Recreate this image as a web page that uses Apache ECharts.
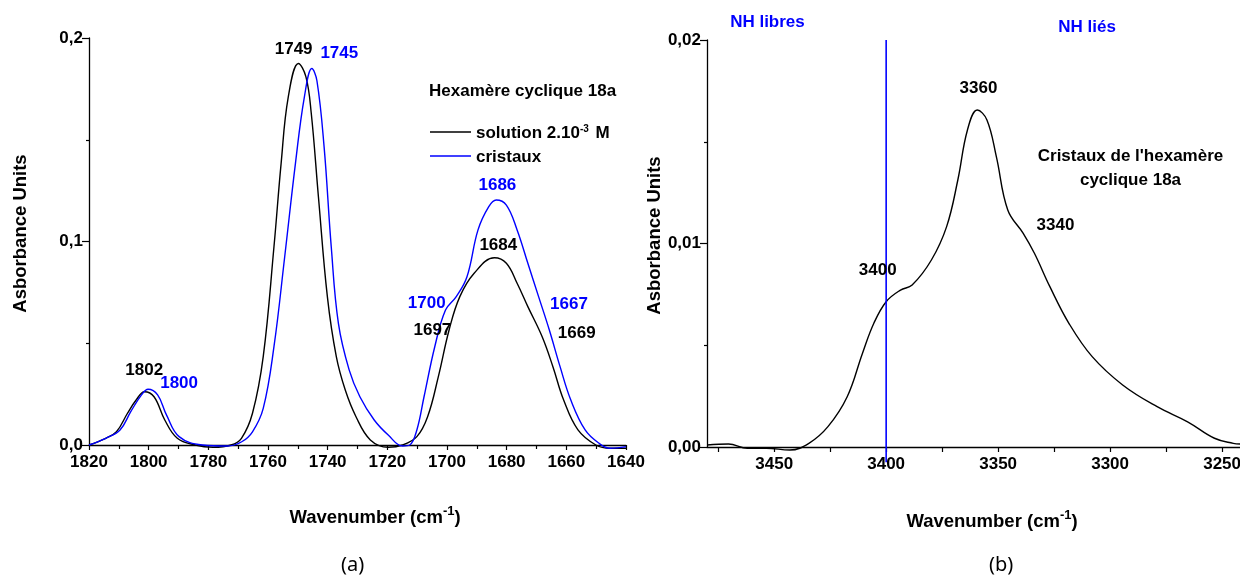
<!DOCTYPE html>
<html>
<head>
<meta charset="utf-8">
<script src="https://cdn.jsdelivr.net/npm/echarts@6/dist/echarts.min.js"></script>
<style>
html,body{margin:0;padding:0;background:#fff;}
#c{width:1240px;height:588px;}
</style>
</head>
<body>
<div id="c"></div>
<script>
// ---- Data ----
// (a) solution 2.10^-3 M
const wnSolution = [1820,1814.4,1810.8,1807.1,1804.2,1801.4,1798.2,1794.6,1790.4,1784.4,1778.4,1772.4,1768.9,1765.2,1761.6,1758,1755.6,1753.2,1749.8,1747.3,1745.5,1743.1,1740.1,1737.1,1734.1,1730.5,1725.7,1719.7,1714.9,1710.1,1706.5,1702.9,1699.3,1695.7,1690.9,1684.1,1680.1,1676.5,1672.9,1668.1,1664.5,1660.9,1656.1,1650.1,1645.3,1640];
const absSolution = [0,0.0033,0.0065,0.0156,0.0221,0.0262,0.0237,0.0123,0.0033,0,-0.0011,0,0.0033,0.0156,0.0434,0.0974,0.1384,0.1711,0.1875,0.181,0.163,0.122,0.0729,0.0434,0.027,0.0139,0.0025,-0.0011,0,0.0041,0.0139,0.0336,0.0565,0.0729,0.0844,0.092,0.0893,0.0795,0.068,0.0532,0.0385,0.0221,0.0074,0,-0.0016,-0.0016];
// (a) cristaux
const wnCristaux = [1820,1814.4,1809.6,1806,1802.4,1800.2,1797,1794,1789.8,1782,1773.6,1768.8,1765.2,1761.6,1758,1754.4,1750.8,1747.8,1745.3,1743.6,1741.2,1738.8,1736.4,1732.8,1729.2,1724.4,1719.7,1714.9,1712.5,1710.1,1707.7,1704.1,1700.5,1696.9,1693.3,1689.6,1686,1683.5,1680.1,1676.5,1672.9,1669.3,1665.7,1662.1,1658.5,1653.7,1649,1645.3,1640];
const absCristaux = [0,0.0033,0.0074,0.0164,0.0246,0.0274,0.0246,0.0147,0.0041,0,-0.0005,0.0016,0.0065,0.018,0.0483,0.0925,0.1384,0.1711,0.185,0.179,0.1466,0.0974,0.0598,0.0369,0.0237,0.0123,0.0049,-0.0005,0,0.0074,0.0237,0.0483,0.0663,0.0729,0.0827,0.1057,0.1171,0.1204,0.1179,0.1057,0.0893,0.0729,0.0565,0.0385,0.0221,0.0074,0.0008,-0.0016,-0.0008];
// (b) cristaux de l'hexamère, NH region
const wnNH = [3480,3470.4,3462,3453.5,3443,3434.5,3426,3417.4,3410.6,3405.5,3400,3393.6,3388.4,3379.8,3373,3368,3363.7,3359.3,3355,3350.8,3345.7,3338.8,3333.8,3326.9,3318.4,3308,3294.4,3279,3265.4,3253.4,3245,3242];
const absNH = [0.0001,0.00015,-0.00006,-0.00006,-0.00015,0.00018,0.001,0.00247,0.0046,0.00608,0.00714,0.00771,0.00796,0.00919,0.01083,0.01312,0.01558,0.01656,0.01607,0.01427,0.01165,0.0105,0.00952,0.00788,0.00608,0.00444,0.00305,0.00198,0.00124,0.00043,0.00018,0.00015];
// (b) separation line NH libres / NH liés
const nhLineWn = [3400,3400];
const nhLineAbs = [0.02,-0.00075];

// Axis ticks
const xTicksA = {min:1640,max:1820,interval:20};
const yTicksA = {min:0,max:0.2,interval:0.1};
const xRangeB = {min:3242,max:3480};
const xLabelsB = [3250,3300,3350,3400,3450];
const xMinorB = [3250,3275,3300,3325,3350,3375,3400,3425,3450,3475];
const yTicksB = {min:0,max:0.02,interval:0.01};

// Annotations [text, wavenumber, absorbance]
const labelsABlack = [
  ['1749',1751.4,0.1944],
  ['1684',1682.8,0.0982],
  ['1697',1704.9,0.0565],
  ['1669',1656.5,0.0550],
  ['1802',1801.5,0.0365]
];
const labelsABlue = [
  ['1745',1736.1,0.1924],
  ['1686',1683.1,0.1277],
  ['1700',1706.8,0.0696],
  ['1667',1659.1,0.0692],
  ['1800',1789.8,0.0303]
];
const labelsBBlack = [
  ['3400',3403.75,0.0087],
  ['3360',3358.8,0.01764],
  ['3340',3324.4,0.01091],
  ["Cristaux de l'hexamère",3290.9,0.01427],
  ['cyclique 18a',3290.9,0.01312]
];
const labelsBBlue = [
  ['NH libres',3453,0.02088],
  ['NH liés',3310.3,0.02062]
];

const zip = (a,b)=>a.map((v,i)=>[v,b[i]]);
const FONT = '"Liberation Sans", Arial, sans-serif';
const FS = 17;
const FT = 18.5;

function xAxisCommon(){
  return {
    type:'value', inverse:true,
    nameLocation:'middle',
    axisLine:{show:true,onZero:false,lineStyle:{color:'#000',width:1.3}},
    axisTick:{show:true,inside:false,length:5,lineStyle:{color:'#000',width:1.2}},
    minorTick:{show:true,splitNumber:2,length:4,lineStyle:{color:'#000',width:1.2}},
    splitLine:{show:false}, minorSplitLine:{show:false},
    axisLabel:{color:'#000',fontFamily:FONT,fontWeight:'bold',fontSize:FS,margin:9,showMinLabel:true,showMaxLabel:true,
      formatter:(v)=>String(Math.round(v))},
    nameTextStyle:{color:'#000',fontFamily:FONT,fontWeight:'bold',fontSize:FT,
      rich:{
        n:{fontFamily:FONT,fontWeight:'bold',fontSize:FT,color:'#000',verticalAlign:'bottom'},
        sup:{fontFamily:FONT,fontWeight:'bold',fontSize:13,color:'#000',verticalAlign:'bottom',padding:[0,0,9,0]}
      }}
  };
}
function yAxisCommon(){
  return {
    type:'value',
    nameLocation:'middle', nameRotate:90,
    axisLine:{show:true,onZero:false,lineStyle:{color:'#000',width:1.3}},
    axisTick:{show:true,inside:false,length:7,lineStyle:{color:'#000',width:1.2}},
    minorTick:{show:true,splitNumber:2,length:3,lineStyle:{color:'#000',width:1.2}},
    splitLine:{show:false}, minorSplitLine:{show:false},
    axisLabel:{color:'#000',fontFamily:FONT,fontWeight:'bold',fontSize:FS,margin:6,showMinLabel:true,showMaxLabel:true},
    nameTextStyle:{color:'#000',fontFamily:FONT,fontWeight:'bold',fontSize:FT,padding:[0,0,0,16]}
  };
}
function labelSeries(arr, xi, yi, color){
  return {
    type:'scatter', xAxisIndex:xi, yAxisIndex:yi, symbolSize:0, clip:false, silent:true,
    itemStyle:{opacity:1,color:color},
    data: arr.map(l=>[l[1],l[2]]),
    label:{show:true,position:'inside',formatter:(p)=>arr[p.dataIndex][0],color:color,opacity:1,
      fontFamily:FONT,fontWeight:'bold',fontSize:FS,align:'center',verticalAlign:'middle',textBorderWidth:0},
    z:10
  };
}

const chart = echarts.init(document.getElementById('c'), null, {renderer:'canvas'});
const xa = Object.assign(xAxisCommon(), {gridIndex:0, min:xTicksA.min, max:xTicksA.max, interval:xTicksA.interval,
  name:'{n|Wavenumber (cm}{sup|-1}{n|)}', nameGap:60});
xa.nameTextStyle.padding = [0,0,0,35];
const xb = Object.assign(xAxisCommon(), {gridIndex:1, min:xRangeB.min, max:xRangeB.max,
  name:'{n|Wavenumber (cm}{sup|-1}{n|)}', nameGap:62});
xb.nameTextStyle.padding = [0,0,0,37];
xb.minorTick = {show:false};
xb.axisTick = Object.assign({}, xb.axisTick, {customValues:xMinorB});
xb.axisLabel = Object.assign({}, xb.axisLabel, {customValues:xLabelsB});

const ya = Object.assign(yAxisCommon(), {gridIndex:0, min:yTicksA.min, max:yTicksA.max, interval:yTicksA.interval,
  name:'Asborbance Units', nameGap:59});
ya.axisLabel.formatter = v=>v.toFixed(1).replace('.',',');
const yb = Object.assign(yAxisCommon(), {gridIndex:1, min:yTicksB.min, max:yTicksB.max, interval:yTicksB.interval,
  name:'Asborbance Units', nameGap:38});
yb.axisLabel.formatter = v=>v.toFixed(2).replace('.',',');

const option = {
  animation:false,
  backgroundColor:'#fff',
  grid:[
    {left:89, width:537, top:38, height:407, containLabel:false, outerBoundsMode:'none'},
    {left:707, width:533, top:40, height:407, containLabel:false, outerBoundsMode:'none'}
  ],
  xAxis:[xa, xb],
  yAxis:[ya, yb],
  title:{text:'Hexamère cyclique 18a', left:429, top:83, padding:0,
    textStyle:{fontFamily:FONT,fontWeight:'bold',fontSize:FS,color:'#000'}},
  legend:{
    left:430, top:122, orient:'vertical', itemGap:4, itemWidth:41, itemHeight:14, padding:0,
    icon:'path://M0,0 L41,0 L41,1.4 L0,1.4 Z',
    data:[{name:'solution',itemStyle:{color:'#000'}},{name:'cristaux',itemStyle:{color:'#0000ff'}}],
    formatter:(n)=> n==='solution' ? '{n|solution 2.10}{sup|-3}{n| M}' : '{n|cristaux}',
    textStyle:{fontFamily:FONT,fontWeight:'bold',fontSize:FS,color:'#000',lineHeight:20,
      rich:{
        n:{fontFamily:FONT,fontWeight:'bold',fontSize:FS,color:'#000',verticalAlign:'bottom'},
        sup:{fontFamily:FONT,fontWeight:'bold',fontSize:10,color:'#000',verticalAlign:'bottom',padding:[0,2,8,0]}
      }}
  },
  graphic:[
    {type:'text', left:341, top:555, style:{text:'(a)', font:'20px "Noto Sans", "Open Sans", sans-serif', fill:'#000'}},
    {type:'text', left:989, top:555, style:{text:'(b)', font:'20px "Noto Sans", "Open Sans", sans-serif', fill:'#000'}}
  ],
  series:[
    {name:'solution', type:'line', xAxisIndex:0, yAxisIndex:0, data:zip(wnSolution,absSolution),
      showSymbol:false, smooth:0.4, clip:false, lineStyle:{color:'#000',width:1.4}, itemStyle:{color:'#000'}},
    {name:'cristaux', type:'line', xAxisIndex:0, yAxisIndex:0, data:zip(wnCristaux,absCristaux),
      showSymbol:false, smooth:0.4, clip:false, lineStyle:{color:'#0000ff',width:1.4}, itemStyle:{color:'#0000ff'}},
    {name:'NH', type:'line', xAxisIndex:1, yAxisIndex:1, data:zip(wnNH,absNH),
      showSymbol:false, smooth:0.4, clip:false, lineStyle:{color:'#000',width:1.4}, itemStyle:{color:'#000'}},
    {name:'sep', type:'line', xAxisIndex:1, yAxisIndex:1, data:zip(nhLineWn,nhLineAbs),
      showSymbol:false, clip:false, lineStyle:{color:'#0000ff',width:1.6}},
    labelSeries(labelsABlack,0,0,'#000'),
    labelSeries(labelsABlue,0,0,'#0000ff'),
    labelSeries(labelsBBlack,1,1,'#000'),
    labelSeries(labelsBBlue,1,1,'#0000ff')
  ]
};
chart.setOption(option);
</script>
</body>
</html>
